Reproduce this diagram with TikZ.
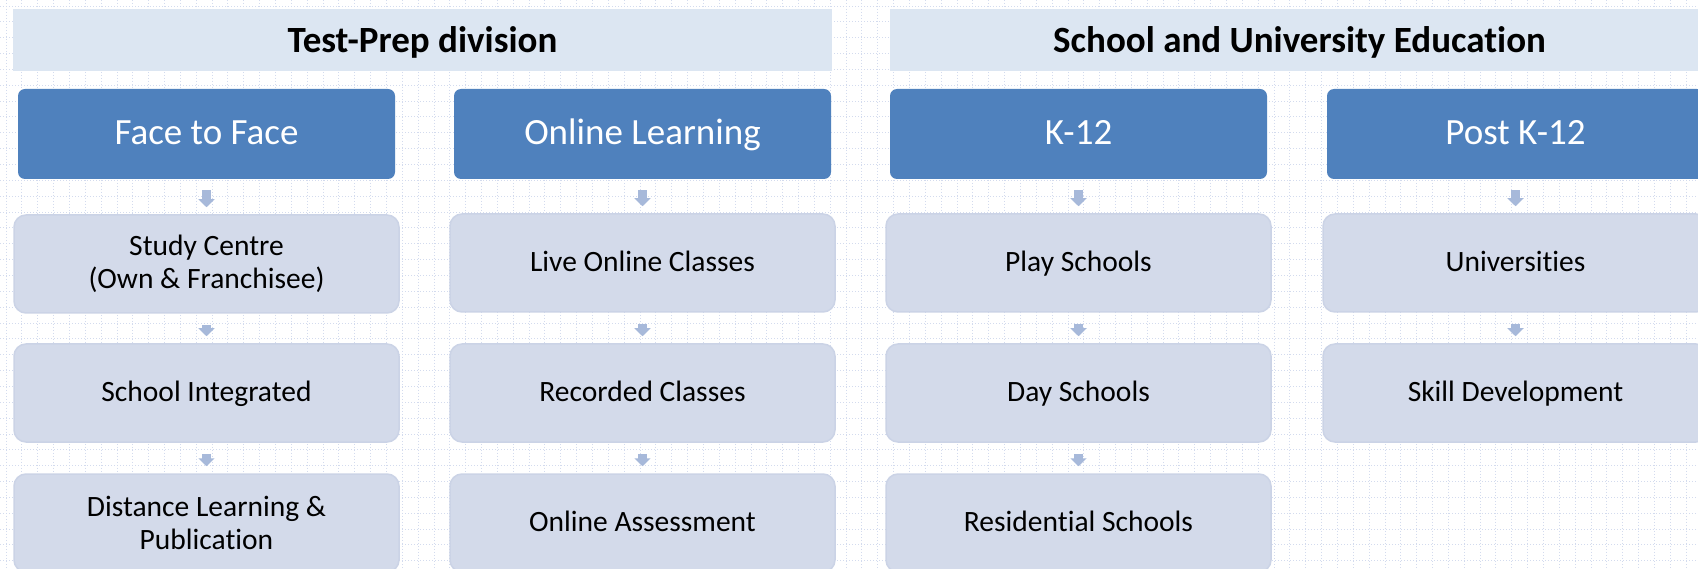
\documentclass[tikz,border=0pt]{standalone}
\usepackage{fontspec}
\setmainfont{Carlito}[Ligatures=NoCommon]
\usetikzlibrary{arrows.meta}
\definecolor{blueBox}{HTML}{4F81BD}
\definecolor{lightBox}{HTML}{D3DAEA}
\definecolor{lightEdge}{HTML}{CBD3E6}
\definecolor{headFill}{HTML}{DCE6F2}
\definecolor{gridCol}{HTML}{D3DBEE}
\definecolor{arrCol}{HTML}{A7B9DA}
\tikzset{
  header/.style={fill=headFill, draw=none, minimum width=819pt, minimum height=62pt,
    inner sep=0pt, font=\fontsize{37}{42}\selectfont\bfseries, text=black,
    text height=33pt, text depth=7pt},
  topbox/.style={fill=blueBox, draw=none, rounded corners=7pt, minimum width=377pt,
    minimum height=90pt, inner sep=0pt, font=\fontsize{37}{42}\selectfont, text=white,
    text height=29.4pt, text depth=7.4pt},
  subbox/.style={fill=lightBox, draw=lightEdge, line width=1.5pt, rounded corners=12pt,
    minimum width=385pt, minimum height=98pt, inner sep=0pt, align=center,
    font=\fontsize{29.5}{33}\selectfont, text=black},
  oneline/.style={text height=22.6pt, text depth=6pt},
  flow/.style={draw=arrCol, line width=9pt, shorten <=11pt, shorten >=7pt,
    -{Triangle[length=8pt,width=16pt]}}
}
\begin{document}
\begin{tikzpicture}[x=1pt,y=-1pt]
\useasboundingbox (0,0) rectangle (1698,569);
\fill[white] (0,0) rectangle (1698,569);
\begin{scope}
\clip (0,0) rectangle (1698,569);
\foreach \i in {0,...,107} {
  \draw[gridCol, line width=0.9pt, dash pattern=on 1.2pt off 1.8pt] (6+\i*15.85,0) -- (6+\i*15.85,569);
}
\foreach \j in {0,...,36} {
  \draw[gridCol, line width=0.9pt, dash pattern=on 1.2pt off 1.8pt] (0,6+\j*15.85) -- (1698,6+\j*15.85);
}
% headers
\node[header] (h1) at (422.5,40) {Test-Prep division};
\node[header] (h2) at (1299.5,40) {School and University Education};
% top boxes
\node[topbox] (c1) at (206.5,134) {Face to Face};
\node[topbox] (c2) at (642.5,134) {Online Learning};
\node[topbox] (c3) at (1078.5,134) {K-12};
\node[topbox] (c4) at (1515.5,134) {Post K-12};
% column 1
\node[subbox] (a1) at (206.5,264) {Study Centre\\(Own \& Franchisee)};
\node[subbox, oneline] (a2) at (206.5,393) {School Integrated};
\node[subbox] (a3) at (206.5,523) {Distance Learning \&\\Publication};
% column 2
\node[subbox, oneline] (b1) at (642.5,263) {Live Online Classes};
\node[subbox, oneline] (b2) at (642.5,393) {Recorded Classes};
\node[subbox, oneline] (b3) at (642.5,523) {Online Assessment};
% column 3
\node[subbox, oneline] (k1) at (1078.5,263) {Play Schools};
\node[subbox, oneline] (k2) at (1078.5,393) {Day Schools};
\node[subbox, oneline] (k3) at (1078.5,523) {Residential Schools};
% column 4
\node[subbox, oneline] (p1) at (1515.5,263) {Universities};
\node[subbox, oneline] (p2) at (1515.5,393) {Skill Development};
% arrows
\draw[flow] (c1.south) -- (a1.north);
\draw[flow] (a1.south) -- (a2.north);
\draw[flow] (a2.south) -- (a3.north);
\draw[flow] (c2.south) -- (b1.north);
\draw[flow] (b1.south) -- (b2.north);
\draw[flow] (b2.south) -- (b3.north);
\draw[flow] (c3.south) -- (k1.north);
\draw[flow] (k1.south) -- (k2.north);
\draw[flow] (k2.south) -- (k3.north);
\draw[flow] (c4.south) -- (p1.north);
\draw[flow] (p1.south) -- (p2.north);
\end{scope}
\end{tikzpicture}
\end{document}
